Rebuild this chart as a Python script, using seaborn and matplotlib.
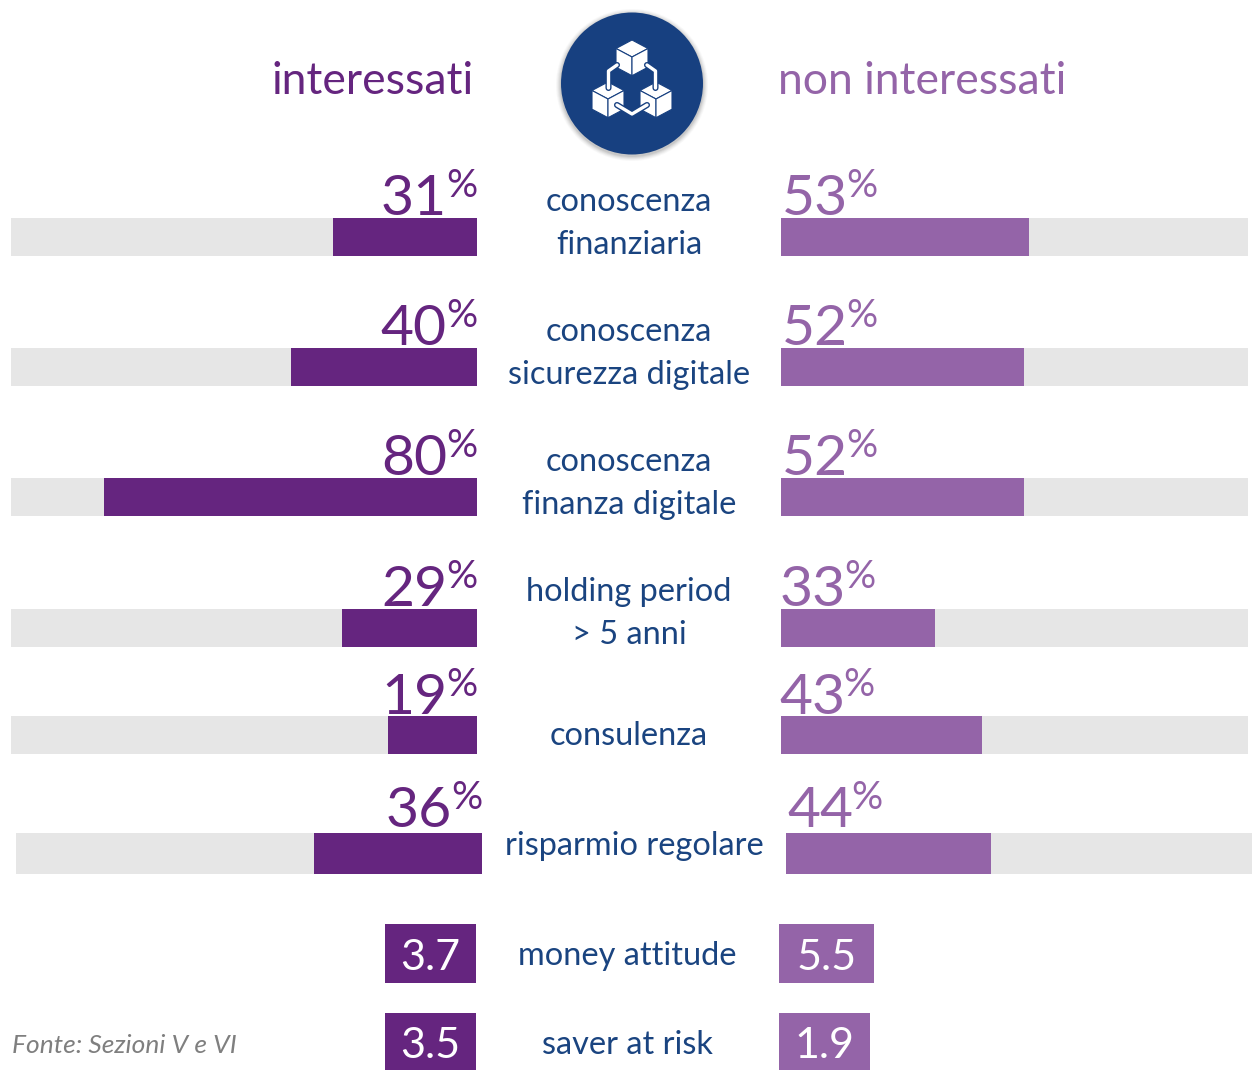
import matplotlib
matplotlib.use('Agg')
import matplotlib.pyplot as plt
from matplotlib.patches import Circle, Polygon, Rectangle
import pandas as pd
import seaborn as sns

# data
categories = ['conoscenza\nfinanziaria', 'conoscenza\nsicurezza digitale',
              'conoscenza\nfinanza digitale', 'holding period\n> 5 anni',
              'consulenza', 'risparmio regolare']
interessati = [31, 40, 80, 29, 19, 36]
non_interessati = [53, 52, 52, 33, 43, 44]
score_names = ['money attitude', 'saver at risk']
score_int = ['3.7', '3.5']
score_non = ['5.5', '1.9']

PURPLE = '#65257F'
LILAC = '#9464A8'
GREY = '#E6E6E6'
NAVY = '#1A4480'

W, H = 1252, 1070

sns.set_theme(style='white')
plt.rcParams['font.family'] = ['Lato', 'DejaVu Sans']

fig = plt.figure(figsize=(W / 100, H / 100), dpi=100, facecolor='white')


def px_axes(x0, y0, x1, y1):
    return fig.add_axes([x0 / W, 1 - y1 / H, (x1 - x0) / W, (y1 - y0) / H])


# one pair of tracks per row, the rows are not evenly spaced in the original
row_top = [218, 348, 478, 609, 716, 833]
row_bot = [256, 386, 516, 647, 754, 874]
row_dx = [0, 0, 0, 0, 0, 5]
num_base = [215, 345, 475, 606, 714, 827]

for i, cat in enumerate(categories):
    dx = row_dx[i]
    df = pd.DataFrame({'cat': [cat], 'full': [100], 'int': [interessati[i]],
                       'non': [non_interessati[i]]})
    for col, col_color, x0, x1 in [('int', PURPLE, 11, 477), ('non', LILAC, 781, 1248)]:
        ax = px_axes(x0 + dx, row_top[i], x1 + dx, row_bot[i])
        sns.barplot(data=df, x='full', y='cat', color=GREY, width=1, saturation=1, linewidth=0, ax=ax)
        sns.barplot(data=df, x=col, y='cat', color=col_color, width=1, saturation=1, linewidth=0, ax=ax)
        ax.set_xlim((100, 0) if col == 'int' else (0, 100))
        ax.axis('off')

# overlay in pixel coordinates for the text and the icon
top = px_axes(0, 0, W, H)
top.set_xlim(0, W)
top.set_ylim(H, 0)
top.axis('off')
top.patch.set_alpha(0)

top.text(474, 94, 'interessati', color=PURPLE, fontsize=32, ha='right', va='baseline')
top.text(778, 94, 'non interessati', color=LILAC, fontsize=32, ha='left', va='baseline')

NUM = 41
PCT = 28
num_right = [447, 447, 447, 447, 447, 452]
non_left = [782, 782, 782, 780, 779, 787]
rend = fig.canvas.get_renderer()
for i in range(len(categories)):
    b = num_base[i]
    top.text(num_right[i], b, str(interessati[i]), color=PURPLE, fontsize=NUM, ha='right', va='baseline')
    top.text(num_right[i] - 1, b - 18, '%', color=PURPLE, fontsize=PCT, ha='left', va='baseline')
    t = top.text(non_left[i], b, str(non_interessati[i]), color=LILAC, fontsize=NUM, ha='left', va='baseline')
    bb = t.get_window_extent(rend)
    top.text(bb.x1 - 2, b - 18, '%', color=LILAC, fontsize=PCT, ha='left', va='baseline')

# category labels
label_base = [[211, 254], [341, 384], [471, 514], [601, 644], [745], [855]]
label_x = [629, 629, 629, 629, 629, 634]
for i, cat in enumerate(categories):
    for line, b in zip(cat.split('\n'), label_base[i]):
        top.text(label_x[i], b, line, color=NAVY, fontsize=23.4, ha='center', va='baseline')

# score boxes
box_y = [(924, 983), (1013, 1070)]
box_int = [(385, 476), (385, 476)]
box_non = [(779, 874), (779, 870)]
score_x = [627, 627]
score_base = [965, 1054]
for i, name in enumerate(score_names):
    y0, y1 = box_y[i]
    for (x0, x1), val, col in [(box_int[i], score_int[i], PURPLE), (box_non[i], score_non[i], LILAC)]:
        top.add_patch(Rectangle((x0, y0), x1 - x0, y1 - y0, color=col, lw=0))
        top.text((x0 + x1) / 2, (y0 + y1) / 2 + 17, val, color='white', fontsize=31, ha='center', va='baseline')
    top.text(score_x[i], score_base[i], name, color=NAVY, fontsize=23.4, ha='center', va='baseline')

top.text(12, 1053, 'Fonte: Sezioni V e VI', color='#7F7F7F', fontsize=19, style='italic', ha='left', va='baseline')

# round icon with a soft shadow
for r, a in [(76, 0.04), (75, 0.05), (74, 0.07), (73, 0.09), (72, 0.12)]:
    top.add_patch(Circle((632, 85), r, color='#555555', alpha=a, lw=0))
top.add_patch(Circle((632, 83.5), 71, color='#174080', lw=0))


def cube(cx, cy):
    w, h = 16, 8.5
    faces = [
        [(cx, cy - 2 * h), (cx + w, cy - h), (cx, cy), (cx - w, cy - h)],
        [(cx - w, cy - h), (cx, cy), (cx, cy + 2.2 * h), (cx - w, cy + 1.2 * h)],
        [(cx + w, cy - h), (cx, cy), (cx, cy + 2.2 * h), (cx + w, cy + 1.2 * h)],
    ]
    for f in faces:
        top.add_patch(Polygon(f, closed=True, fc='white', ec='#174080', lw=0.8, zorder=5))


cube(632, 57)
cube(608, 99)
cube(656, 99)
for path in [[(617, 65), (608.5, 71), (608.5, 88)], [(647, 65), (655.5, 71), (655.5, 88)],
             [(617, 105), (632, 114), (647, 105)]]:
    top.plot(*zip(*path), color='#174080', lw=4.4, zorder=6, solid_joinstyle='round')
    top.plot(*zip(*path), color='white', lw=2.4, zorder=7, solid_joinstyle='round')

fig.savefig('out.png', dpi=100, facecolor='white')
